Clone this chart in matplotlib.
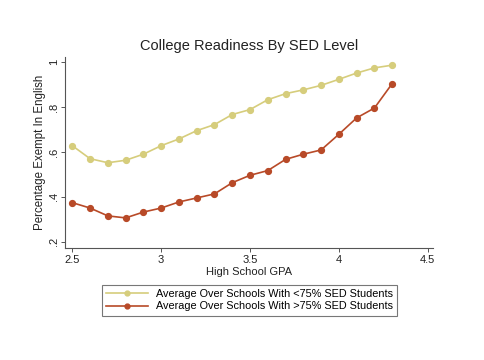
import matplotlib
matplotlib.use("Agg")
import matplotlib.pyplot as plt

plt.rcParams['font.family'] = ['Liberation Sans', 'DejaVu Sans']

gpa = [2.5, 2.6, 2.7, 2.8, 2.9, 3.0, 3.1, 3.2, 3.3, 3.4, 3.5, 3.6, 3.7, 3.8, 3.9, 4.0, 4.1, 4.2, 4.3]
low_sed = [0.628, 0.570, 0.552, 0.563, 0.590, 0.628, 0.658, 0.695, 0.722, 0.767, 0.789, 0.833,
           0.860, 0.877, 0.897, 0.924, 0.952, 0.975, 0.987]
high_sed = [0.374, 0.350, 0.315, 0.306, 0.332, 0.350, 0.377, 0.395, 0.413, 0.463, 0.496, 0.517,
            0.567, 0.590, 0.609, 0.679, 0.752, 0.796, 0.905]
xticks = [2.5, 3, 3.5, 4, 4.5]
xtick_labels = ["2.5", "3", "3.5", "4", "4.5"]
yticks = [0.2, 0.4, 0.6, 0.8, 1.0]
ytick_labels = [".2", ".4", ".6", ".8", "1"]
labels = ["Average Over Schools With <75% SED Students",
          "Average Over Schools With >75% SED Students"]

c_low = "#d6cd7c"
c_high = "#b84a28"

fig = plt.figure(figsize=(4.85, 3.6), dpi=100)
ax = fig.add_axes([0.134, 0.310, 0.759, 0.532])

l1, = ax.plot(gpa, low_sed, color=c_low, marker='o', markersize=4.2, linewidth=1.2, label=labels[0])
l2, = ax.plot(gpa, high_sed, color=c_high, marker='o', markersize=4.2, linewidth=1.2, label=labels[1])

ax.set_xlim(2.459, 4.53)
ax.set_ylim(0.170, 1.024)
ax.set_xticks(xticks)
ax.set_xticklabels(xtick_labels)
ax.set_yticks(yticks)
ax.set_yticklabels(ytick_labels, rotation=90, va='center')

for s in ['top', 'right']:
    ax.spines[s].set_visible(False)
for s in ['left', 'bottom']:
    ax.spines[s].set_color('#555555')
    ax.spines[s].set_linewidth(0.8)
ax.tick_params(direction='out', length=3, width=0.7, colors='#555555', labelsize=8, labelcolor='#222222', pad=2)
ax.tick_params(axis='y', pad=1.5)

ax.set_title("College Readiness By SED Level", fontsize=10.5, color='#222222', pad=5)
ax.set_xlabel("High School GPA", fontsize=8, color='#222222', labelpad=1)
ax.set_ylabel("Percentage Exempt In English", fontsize=8.3, color='#222222', labelpad=2)

leg = fig.legend(handles=[l1, l2], loc='center', bbox_to_anchor=(0.514, 0.166),
                 fontsize=7.8, frameon=True, fancybox=False, edgecolor='#555555',
                 handlelength=3.9, borderpad=0.4, labelspacing=0.2, handletextpad=0.7,
                 borderaxespad=0)
leg.get_frame().set_linewidth(0.8)
for h in leg.legend_handles:
    h.set_markersize(3.5)

fig.savefig("out.png", dpi=100, facecolor='white')
